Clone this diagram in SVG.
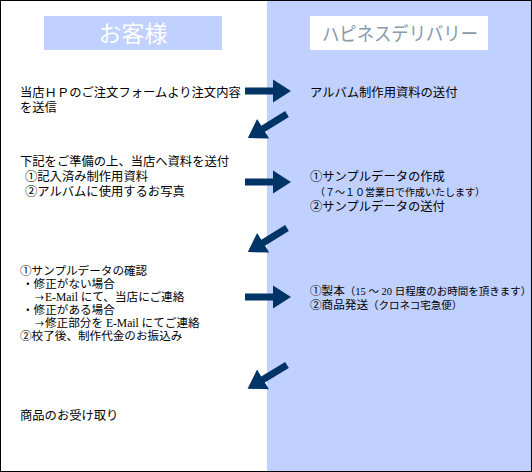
<svg xmlns="http://www.w3.org/2000/svg" width="532" height="472" viewBox="0 0 532 472">
<style>
.t{font-family:"Liberation Serif","Noto Sans CJK JP",serif;font-size:12.3px;fill:#000}
.m{font-family:"Liberation Serif","Noto Sans CJK JP",serif;font-size:11.6px;fill:#000}
.s{font-family:"Liberation Serif","Noto Sans CJK JP",serif;font-size:10px;fill:#000}
.h{font-family:"Liberation Serif","Noto Sans CJK JP",serif;text-anchor:middle}
.ar{font-family:"Noto Sans CJK JP",sans-serif;font-size:9px}
.arr{fill:#003366}
</style>
<defs>
<path id="arrow" class="arr" d="M0,-3.5 H28 V-11.5 L46,0 L28,11.5 V3.5 H0 Z"/>
</defs>
<rect x="0" y="0" width="532" height="472" fill="#fff"/>
<rect x="267" y="0" width="265" height="472" fill="#C0D0FF"/>
<rect x="0.5" y="0.5" width="531" height="471" fill="none" stroke="#000" stroke-width="1"/>

<g id="header-customer">
<rect x="44" y="16" width="178" height="34" fill="#C0D0FF"/>
<text class="h" x="133" y="42" font-size="23" fill="#fff">お客様</text>
</g>
<g id="header-happiness">
<rect x="310" y="16" width="178" height="34" fill="#fff"/>
<text class="h" x="400" y="41" font-size="19" fill="#8899AA" textLength="156" lengthAdjust="spacingAndGlyphs">ハピネスデリバリー</text>
</g>

<g id="step1-customer">
<text class="t" x="20" y="97">当店ＨＰのご注文フォームより注文内容</text>
<text class="t" x="20" y="112">を送信</text>
</g>
<g id="step1-shop">
<text class="t" x="310" y="97">アルバム制作用資料の送付</text>
</g>

<g id="step2-customer">
<text class="t" x="20" y="166">下記をご準備の上、当店へ資料を送付</text>
<text class="t" x="25" y="181">①記入済み制作用資料</text>
<text class="t" x="25" y="196">②アルバムに使用するお写真</text>
</g>
<g id="step2-shop">
<text class="t" x="310" y="181">①サンプルデータの作成</text>
<text class="s" x="315" y="196">（７～１０営業日で作成いたします）</text>
<text class="t" x="310" y="211">②サンプルデータの送付</text>
</g>

<g id="step3-customer">
<text class="m" x="20" y="275">①サンプルデータの確認</text>
<text class="m" x="22" y="288">・修正がない場合</text>
<text class="m" x="35" y="301"><tspan class="ar">→</tspan><tspan dx="1">E-Mail にて、当店にご連絡</tspan></text>
<text class="m" x="22" y="314">・修正がある場合</text>
<text class="m" x="35" y="327"><tspan class="ar">→</tspan><tspan dx="1">修正部分を E-Mail にてご連絡</tspan></text>
<text class="m" x="20" y="340">②校了後、制作代金のお振込み</text>
</g>
<g id="step3-shop">
<text class="m" x="310" y="295">①製本<tspan font-size="10.5">（15 ～ 20 日程度のお時間を頂きます）</tspan></text>
<text class="m" x="310" y="309">②商品発送<tspan font-size="10.5">（クロネコ宅急便）</tspan></text>
</g>

<g id="step4-customer">
<text class="t" x="20" y="420">商品のお受け取り</text>
</g>

<g id="connectors">
<use href="#arrow" transform="translate(245,91)"/>
<use href="#arrow" transform="translate(287,114) rotate(148.4)"/>
<use href="#arrow" transform="translate(245,182)"/>
<use href="#arrow" transform="translate(287,228) rotate(148.4)"/>
<use href="#arrow" transform="translate(245,297)"/>
<use href="#arrow" transform="translate(287,365) rotate(149)"/>
</g>
</svg>
